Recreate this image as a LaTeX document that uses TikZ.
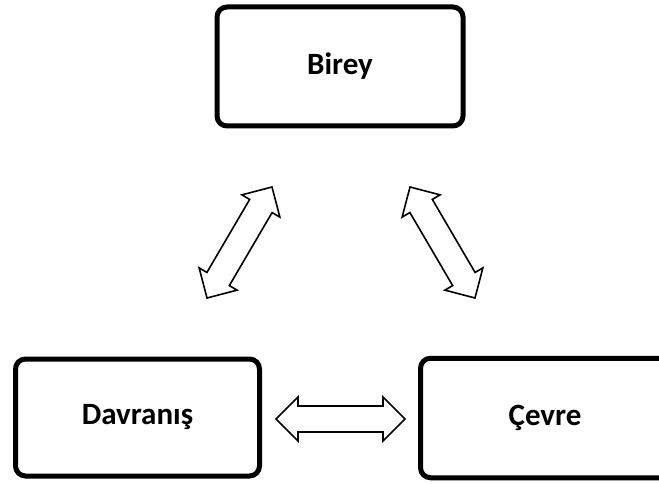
\documentclass[tikz,border=0pt]{standalone}
\usepackage{fontspec}
\setmainfont{Carlito}
\usetikzlibrary{calc}

% Dimensions of the hollow two-way arrows
\newcommand\headlen{22pt}
\newcommand\headhalf{22pt}
\newcommand\shafthalf{13pt}

% Hollow double-headed arrow between two named coordinates
\newcommand\twowayarrow[2]{%
  \coordinate (#1h) at ($(#1)!\headlen!(#2)$);
  \coordinate (#2h) at ($(#2)!\headlen!(#1)$);
  \draw[twoway] (#1)
    -- ($(#1h)!\headhalf!90:(#2)$) -- ($(#1h)!\shafthalf!90:(#2)$)
    -- ($(#2h)!\shafthalf!-90:(#1)$) -- ($(#2h)!\headhalf!-90:(#1)$)
    -- (#2)
    -- ($(#2h)!\headhalf!90:(#1)$) -- ($(#2h)!\shafthalf!90:(#1)$)
    -- ($(#1h)!\shafthalf!-90:(#2)$) -- ($(#1h)!\headhalf!-90:(#2)$)
    -- cycle;}

\tikzset{
  conceptbox/.style={draw=black, line width=5pt, rounded corners=10pt,
    fill=white, inner sep=0pt, font=\fontsize{31}{37}\selectfont\bfseries},
  twoway/.style={draw=black, line width=1.6pt, fill=white, line join=miter}
}

\begin{document}
\begin{tikzpicture}[x=1pt, y=-1pt]
  \clip (0,0) rectangle (659,484);
  \fill[white] (0,0) rectangle (659,484);

  % The three factors
  \node[conceptbox, minimum width=246pt, minimum height=119pt] (birey) at (340,66.5) {Birey};
  \node[conceptbox, minimum width=244pt, minimum height=117pt] (davranis) at (137.5,417.5) {Davranış};
  \node[conceptbox, minimum width=249pt, minimum height=119.5pt] (cevre) at (545,418) {Çevre};

  % End points of the two-way arrows
  \coordinate (lb) at (207,298);
  \coordinate (lt) at (272,187);
  \coordinate (rt) at (410,187);
  \coordinate (rb) at (475,298);
  \coordinate (hl) at (276,419);
  \coordinate (hr) at (405,419);

  \twowayarrow{lb}{lt}
  \twowayarrow{rt}{rb}
  \twowayarrow{hl}{hr}
\end{tikzpicture}
\end{document}
